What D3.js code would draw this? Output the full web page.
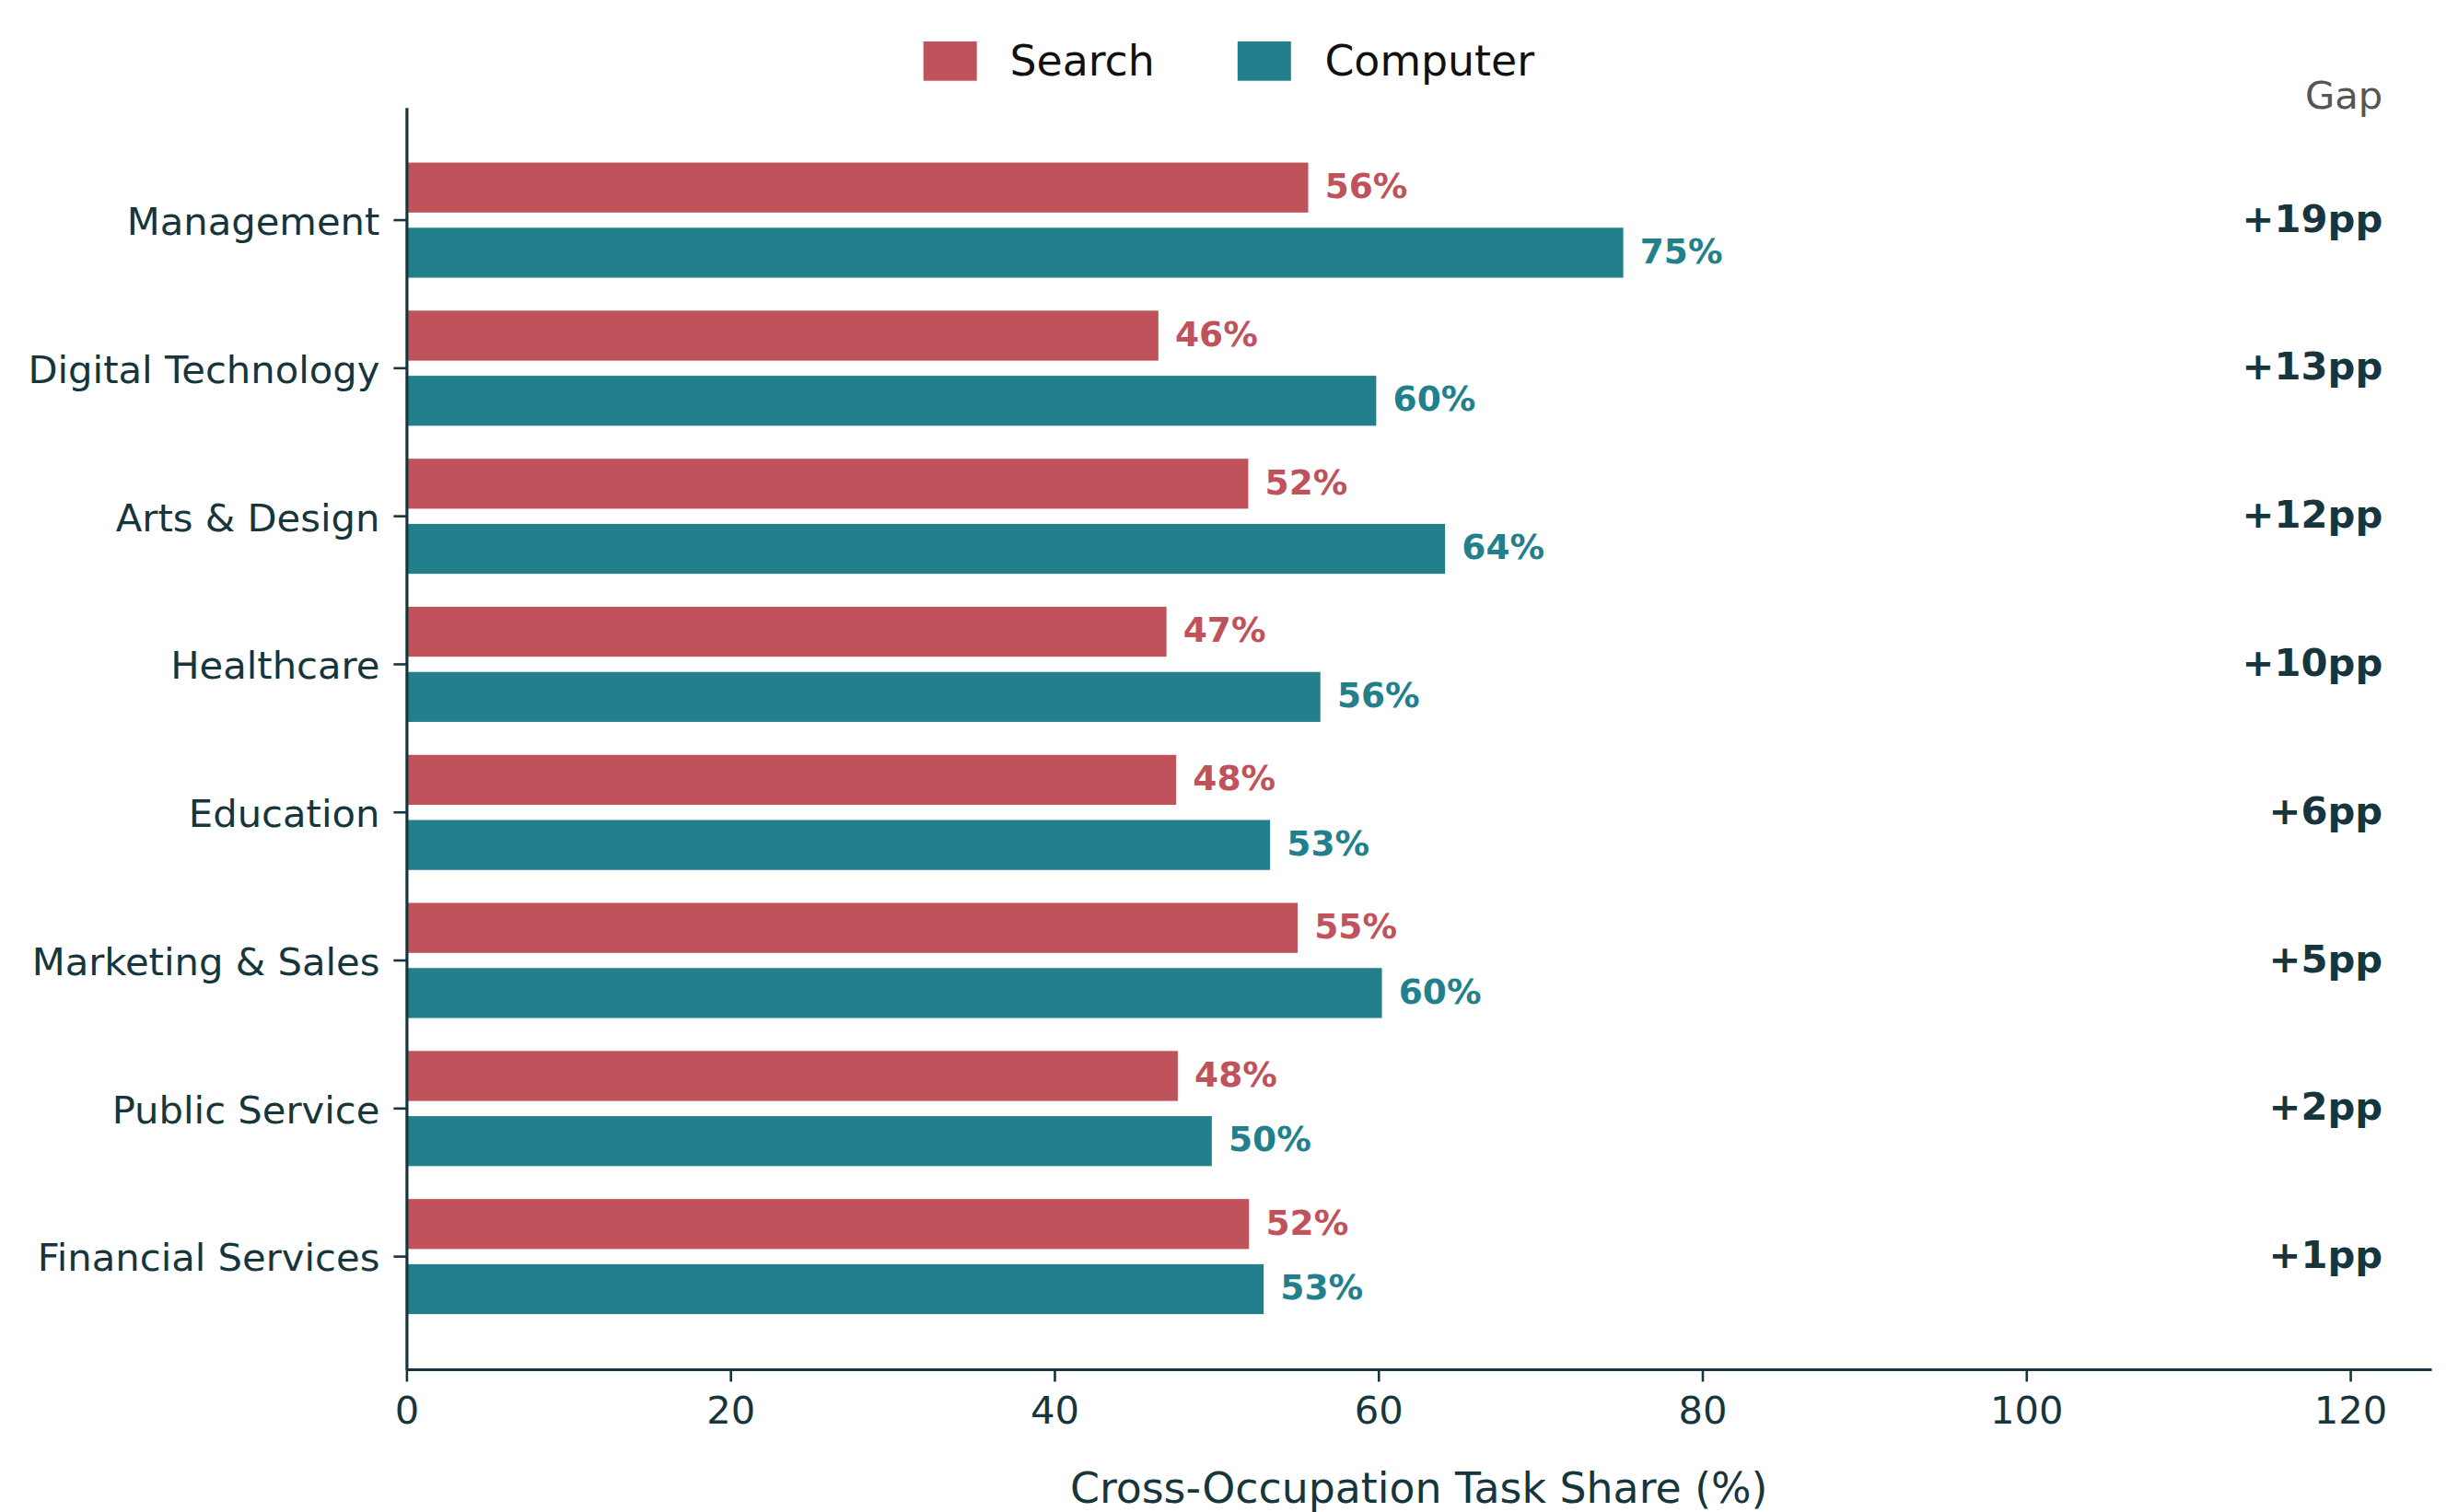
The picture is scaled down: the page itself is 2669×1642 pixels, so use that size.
<!DOCTYPE html>
<html>
<head>
<meta charset="utf-8">
<script src="https://cdn.jsdelivr.net/npm/d3@7"></script>
<style>
  html, body { margin: 0; padding: 0; background: #ffffff; }
  svg { display: block; font-family: "DejaVu Sans", sans-serif; }
</style>
</head>
<body>
<svg id="chart" width="2669" height="1642"></svg>
<script>
// ---- data ----
const categories = ["Management", "Digital Technology", "Arts & Design", "Healthcare",
                    "Education", "Marketing & Sales", "Public Service", "Financial Services"];
const searchValues   = [55.7, 46.45, 52.0, 46.95, 47.55, 55.05, 47.65, 52.05];
const computerValues = [75.15, 59.9, 64.15, 56.45, 53.35, 60.25, 49.75, 52.95];
const gapValues      = [19, 13, 12, 10, 6, 5, 2, 1];
const seriesNames    = ["Search", "Computer"];
const xTicks         = [0, 20, 40, 60, 80, 100, 120];
const xMax = 125;
const gapLabelX = 122;

(function () {
// ---- styles ----
const colors = { Search: "#C0525C", Computer: "#21808B" };
const darkText = "#16353D";

const svg = d3.select("#chart");
const pLeft = 441.4, pRight = 2640, pTop = 116.7, pBottom = 1487;

const x = d3.scaleLinear().domain([0, xMax]).range([pLeft, pRight]);
const y = d3.scaleBand().domain(categories).range([pTop, pBottom])
  .paddingInner(0).paddingOuter(0.261);
const step = y.step();
const barH = 0.345 * step;
const offset = 0.22 * step;

const rows = categories.map((c, i) => ({
  cat: c, search: searchValues[i], computer: computerValues[i], gap: gapValues[i]
}));

const g = svg.append("g");

// bars
const series = [
  { name: seriesNames[0], key: "search", dy: -offset },
  { name: seriesNames[1], key: "computer", dy: offset }
];
series.forEach(s => {
  g.selectAll(".bar-" + s.key).data(rows).enter().append("rect")
    .attr("class", "bar-" + s.key)
    .attr("x", x(0))
    .attr("y", d => y(d.cat) + step / 2 + s.dy - barH / 2)
    .attr("width", d => x(d[s.key]) - x(0))
    .attr("height", barH)
    .attr("fill", colors[s.name])
    .attr("stroke", "#ffffff")
    .attr("stroke-width", 1.2);

  g.selectAll(".lab-" + s.key).data(rows).enter().append("text")
    .attr("class", "lab-" + s.key)
    .attr("x", d => x(d[s.key] + 1))
    .attr("y", d => y(d.cat) + step / 2 + s.dy)
    .attr("dy", "0.3em")
    .attr("font-size", 37.5)
    .attr("font-weight", "bold")
    .attr("fill", colors[s.name])
    .text(d => Math.round(d[s.key]) + "%");
});

// gap labels
g.selectAll(".gap").data(rows).enter().append("text")
  .attr("class", "gap")
  .attr("x", x(gapLabelX))
  .attr("y", d => y(d.cat) + step / 2)
  .attr("dy", "0.3em")
  .attr("text-anchor", "end")
  .attr("font-size", 41.7)
  .attr("font-weight", "bold")
  .attr("fill", darkText)
  .text(d => "+" + d.gap + "pp");

svg.append("text")
  .attr("x", x(gapLabelX)).attr("y", 118.3)
  .attr("text-anchor", "end")
  .attr("font-size", 41.7)
  .attr("fill", "#555555")
  .text("Gap");

// x axis
const xAxis = d3.axisBottom(x).tickValues(xTicks).tickSize(13.5).tickPadding(14).tickSizeOuter(0);
const xg = svg.append("g").attr("transform", `translate(0,${pBottom})`).call(xAxis);
xg.select(".domain").attr("stroke", darkText).attr("stroke-width", 3.2);
xg.selectAll(".tick line").attr("stroke", darkText).attr("stroke-width", 2.6);
xg.selectAll(".tick text").attr("fill", darkText).attr("font-size", 41.7)
  .attr("font-family", "DejaVu Sans, sans-serif").attr("dy", "0.76em");

// y axis
const yAxis = d3.axisLeft(y).tickSize(14).tickPadding(15).tickSizeOuter(0);
const yg = svg.append("g").attr("transform", `translate(${pLeft},0)`).call(yAxis);
yg.select(".domain").attr("stroke", darkText).attr("stroke-width", 3.2);
yg.selectAll(".tick line").attr("stroke", darkText).attr("stroke-width", 2.6);
yg.selectAll(".tick text").attr("fill", darkText).attr("font-size", 41.7)
  .attr("font-family", "DejaVu Sans, sans-serif").attr("dy", "0.38em");

// x axis label
svg.append("text")
  .attr("x", (pLeft + pRight) / 2).attr("y", 1631.5)
  .attr("text-anchor", "middle")
  .attr("font-size", 45.8)
  .attr("fill", darkText)
  .text("Cross-Occupation Task Share (%)");

// legend
const legendItems = [
  { name: seriesNames[0], px: 1002.7, tx: 1096.4 },
  { name: seriesNames[1], px: 1343.8, tx: 1438.4 }
];
const lg = svg.append("g");
lg.selectAll("rect").data(legendItems).enter().append("rect")
  .attr("x", d => d.px).attr("y", 45).attr("width", 58).attr("height", 42.7)
  .attr("fill", d => colors[d.name]);
lg.selectAll("text").data(legendItems).enter().append("text")
  .attr("x", d => d.tx).attr("y", 81.7)
  .attr("font-size", 45.8)
  .attr("fill", "#111111")
  .text(d => d.name);
})();
</script>
</body>
</html>
